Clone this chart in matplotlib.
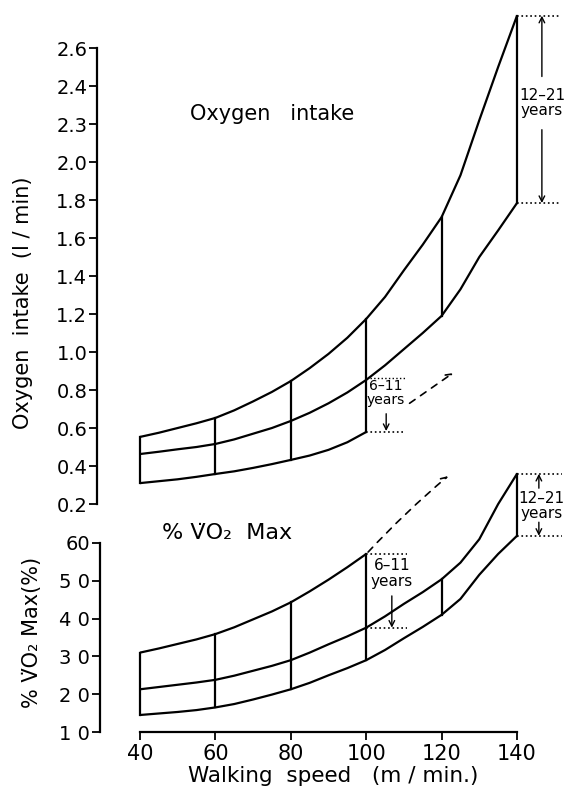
import matplotlib
matplotlib.use('Agg')
import matplotlib.pyplot as plt
import numpy as np

# walking speed grid (m/min)
speeds = [40, 45, 50, 55, 60, 65, 70, 75, 80, 85, 90, 95, 100,
          105, 110, 115, 120, 125, 130, 135, 140]

# Oxygen intake (l/min)
o2_upper = [0.553, 0.575, 0.60, 0.625, 0.653, 0.693, 0.74, 0.79, 0.847, 0.915, 0.99,
            1.075, 1.174, 1.29, 1.43, 1.565, 1.71, 1.93, 2.22, 2.50, 2.77]
o2_middle = [0.463, 0.475, 0.488, 0.50, 0.516, 0.54, 0.57, 0.60, 0.637, 0.68, 0.73,
             0.787, 0.853, 0.93, 1.015, 1.10, 1.19, 1.33, 1.50, 1.64, 1.784]
o2_lower = [0.31, 0.32, 0.33, 0.343, 0.358, 0.372, 0.39, 0.41, 0.432, 0.455, 0.485,
            0.525, 0.579] + [None] * 8

# % VO2 max
vo2_upper = [31.0, 32.1, 33.3, 34.5, 35.9, 37.7, 39.8, 41.9, 44.3, 47.2, 50.3,
             53.6, 57.1] + [None] * 8
vo2_middle = [21.3, 21.9, 22.5, 23.1, 23.8, 24.9, 26.2, 27.5, 29.0, 31.0, 33.2,
              35.3, 37.6, 40.6, 43.9, 47.0, 50.4, 54.8, 61.0, 70.3, 78.3]
vo2_lower = [14.5, 14.9, 15.3, 15.8, 16.5, 17.4, 18.6, 19.9, 21.3, 23.0, 25.0,
             26.9, 29.0, 31.7, 34.8, 37.8, 41.0, 45.2, 51.6, 57.1, 61.9]

grid_speeds = [40, 60, 80, 100, 120, 140]

o2_ticks = [0.2, 0.4, 0.6, 0.8, 1.0, 1.2, 1.4, 1.6, 1.8, 2.0, 2.2, 2.4, 2.6]
o2_ticklabels = ['0.2', '0.4', '0.6', '0.8', '1.0', '1.2', '1.4', '1.6', '1.8',
                 '2.0', '2.3', '2.4', '2.6']
vo2_ticks = [10, 20, 30, 40, 50, 60]
vo2_ticklabels = ['1 0', '2 0', '3 0', '4 0', '5 0', '60']
speed_ticks = [40, 60, 80, 100, 120, 140]

VO2 = 'V\u0307O\u2082'

LW = 1.6
W, H = 564, 791


def arr(v):
    return np.array([np.nan if a is None else a for a in v], dtype=float)


def px_axes(fig, left, right, top, bottom):
    return fig.add_axes([left / W, 1 - bottom / H, (right - left) / W, (bottom - top) / H],
                        facecolor='none')


def value_at(xs, ys, x):
    return ys[xs.index(x)]


def draw_band(ax, xs, upper, middle, lower, split_band):
    """Draws three curves and the vertical grid lines between them.
    split_band: 'lower' means the lower curve stops at 100 (top panel),
                'upper' means the upper curve stops at 100 (bottom panel)."""
    for ys in (upper, middle, lower):
        ax.plot(xs, arr(ys), '-', color='black', lw=LW, solid_capstyle='butt')
    for g in grid_speeds:
        u = value_at(xs, upper, g)
        m = value_at(xs, middle, g)
        lo = value_at(xs, lower, g)
        if split_band == 'lower':
            top_v = u
            bot_v = lo if lo is not None else m
        else:
            top_v = u if u is not None else m
            bot_v = lo
        ax.plot([g, g], [bot_v, top_v], '-', color='black', lw=LW)


def arrow(ax, tip, tail, lw=1.0, **kw):
    ax.annotate('', xy=tip, xytext=tail,
                arrowprops=dict(arrowstyle='->', lw=lw, color='black',
                                shrinkA=0, shrinkB=0, **kw))


fig = plt.figure(figsize=(W / 100, H / 100), dpi=100)
plt.rcParams['font.family'] = ['DejaVu Sans']

# ---------------------------------------------------------------- top panel
ax1 = px_axes(fig, 97, 564, 10, 515)
ax1.set_xlim(40 - 43 / 3.77, 140 + 47 / 3.77)
ax1.set_ylim(0.2 - 11 / 190, 2.6 + 38 / 190)
draw_band(ax1, speeds, o2_upper, o2_middle, o2_lower, 'lower')

for s in ['top', 'right', 'bottom']:
    ax1.spines[s].set_visible(False)
ax1.spines['left'].set_bounds(0.2, 2.6)
ax1.spines['left'].set_linewidth(LW)
ax1.set_xticks([])
ax1.set_yticks(o2_ticks)
ax1.set_yticklabels(o2_ticklabels, fontsize=14)
ax1.tick_params(axis='y', direction='out', length=6, width=1.3, pad=1)
ax1.set_ylabel('Oxygen  intake  (l / min)', fontsize=15)
ax1.yaxis.set_label_coords(-0.137, 0.42)

ax1.text(75.0, 2.25, 'Oxygen   intake', fontsize=15, ha='center', va='center')

# 12-21 years marker at 140
o2_top140 = value_at(speeds, o2_upper, 140)
o2_mid140 = value_at(speeds, o2_middle, 140)
ax1.plot([140, 151.5], [o2_top140, o2_top140], ':', color='black', lw=1.2)
ax1.plot([140, 151.5], [o2_mid140, o2_mid140], ':', color='black', lw=1.2)
ax1.text(146.6, 2.31, '12–21\nyears', fontsize=11, ha='center', va='center',
         linespacing=1.0)
arrow(ax1, (146.6, o2_top140), (146.6, 2.45))
arrow(ax1, (146.6, o2_mid140), (146.6, 2.17))

# 6-11 years marker at 100
o2_mid100 = value_at(speeds, o2_middle, 100)
o2_low100 = value_at(speeds, o2_lower, 100)
ax1.plot([101, 110.3], [o2_mid100 + 0.01, o2_mid100 + 0.01], ':', color='black', lw=1.0)
ax1.plot([100, 110.3], [o2_low100, o2_low100], ':', color='black', lw=1.2)
ax1.text(105.3, 0.785, '6–11\nyears', fontsize=10, ha='center', va='center',
         linespacing=0.95)
arrow(ax1, (105.3, o2_low100 + 0.005), (105.3, 0.675))
arrow(ax1, (123.0, 0.889), (111.5, 0.73), lw=1.2, linestyle=(0, (4, 4)))

# ------------------------------------------------------------- bottom panel
ax2 = px_axes(fig, 100, 564, 440, 732)
ax2.set_xlim(40 - 40 / 3.77, 140 + 47 / 3.77)
ax2.set_ylim(10, 10 + 292 / 3.78)
draw_band(ax2, speeds, vo2_upper, vo2_middle, vo2_lower, 'upper')

for s in ['top', 'right']:
    ax2.spines[s].set_visible(False)
ax2.spines['left'].set_bounds(10, 60)
ax2.spines['bottom'].set_bounds(40, 140)
ax2.spines['left'].set_linewidth(LW)
ax2.spines['bottom'].set_linewidth(LW)
ax2.set_yticks(vo2_ticks)
ax2.set_yticklabels(vo2_ticklabels, fontsize=14)
ax2.set_xticks(speed_ticks)
ax2.set_xticklabels([str(s) for s in speed_ticks], fontsize=15)
ax2.tick_params(axis='y', direction='out', length=6, width=1.3, pad=1)
ax2.tick_params(axis='x', direction='out', length=6, width=1.3, pad=3)
ax2.set_ylabel('% ' + VO2 + ' Max(%)', fontsize=15)
ax2.yaxis.set_label_coords(-0.125, 0.34)
ax2.set_xlabel('Walking  speed   (m / min.)', fontsize=15.5)
ax2.xaxis.set_label_coords(0.502, -0.115)

ax2.text(63.0, 62.6, '% ' + VO2 + '  Max', fontsize=16, ha='center', va='center')

# 12-21 years marker at 140
vo2_top140 = value_at(speeds, vo2_middle, 140)
vo2_low140 = value_at(speeds, vo2_lower, 140)
ax2.plot([140, 152], [vo2_top140, vo2_top140], ':', color='black', lw=1.2)
ax2.plot([140, 152], [vo2_low140, vo2_low140], ':', color='black', lw=1.2)
ax2.text(146.4, 69.8, '12–21\nyears', fontsize=11, ha='center', va='center',
         linespacing=1.0)
arrow(ax2, (145.8, vo2_top140), (145.8, 74.5))
arrow(ax2, (145.8, vo2_low140), (145.8, 65.5))

# 6-11 years marker at 100
vo2_top100 = value_at(speeds, vo2_upper, 100)
vo2_mid100 = value_at(speeds, vo2_middle, 100)
ax2.plot([100, 110.8], [vo2_top100, vo2_top100], ':', color='black', lw=1.2)
ax2.plot([100, 110.8], [vo2_mid100, vo2_mid100], ':', color='black', lw=1.2)
ax2.text(106.8, 52.0, '6–11\nyears', fontsize=11, ha='center', va='center',
         linespacing=1.05)
arrow(ax2, (106.8, vo2_mid100), (106.8, 46.0))
arrow(ax2, (121.7, 77.7), (100.5, vo2_top100 + 0.5), lw=1.2,
      linestyle=(0, (4, 4)), connectionstyle='arc3,rad=-0.03')

fig.savefig('out.png', dpi=100)
